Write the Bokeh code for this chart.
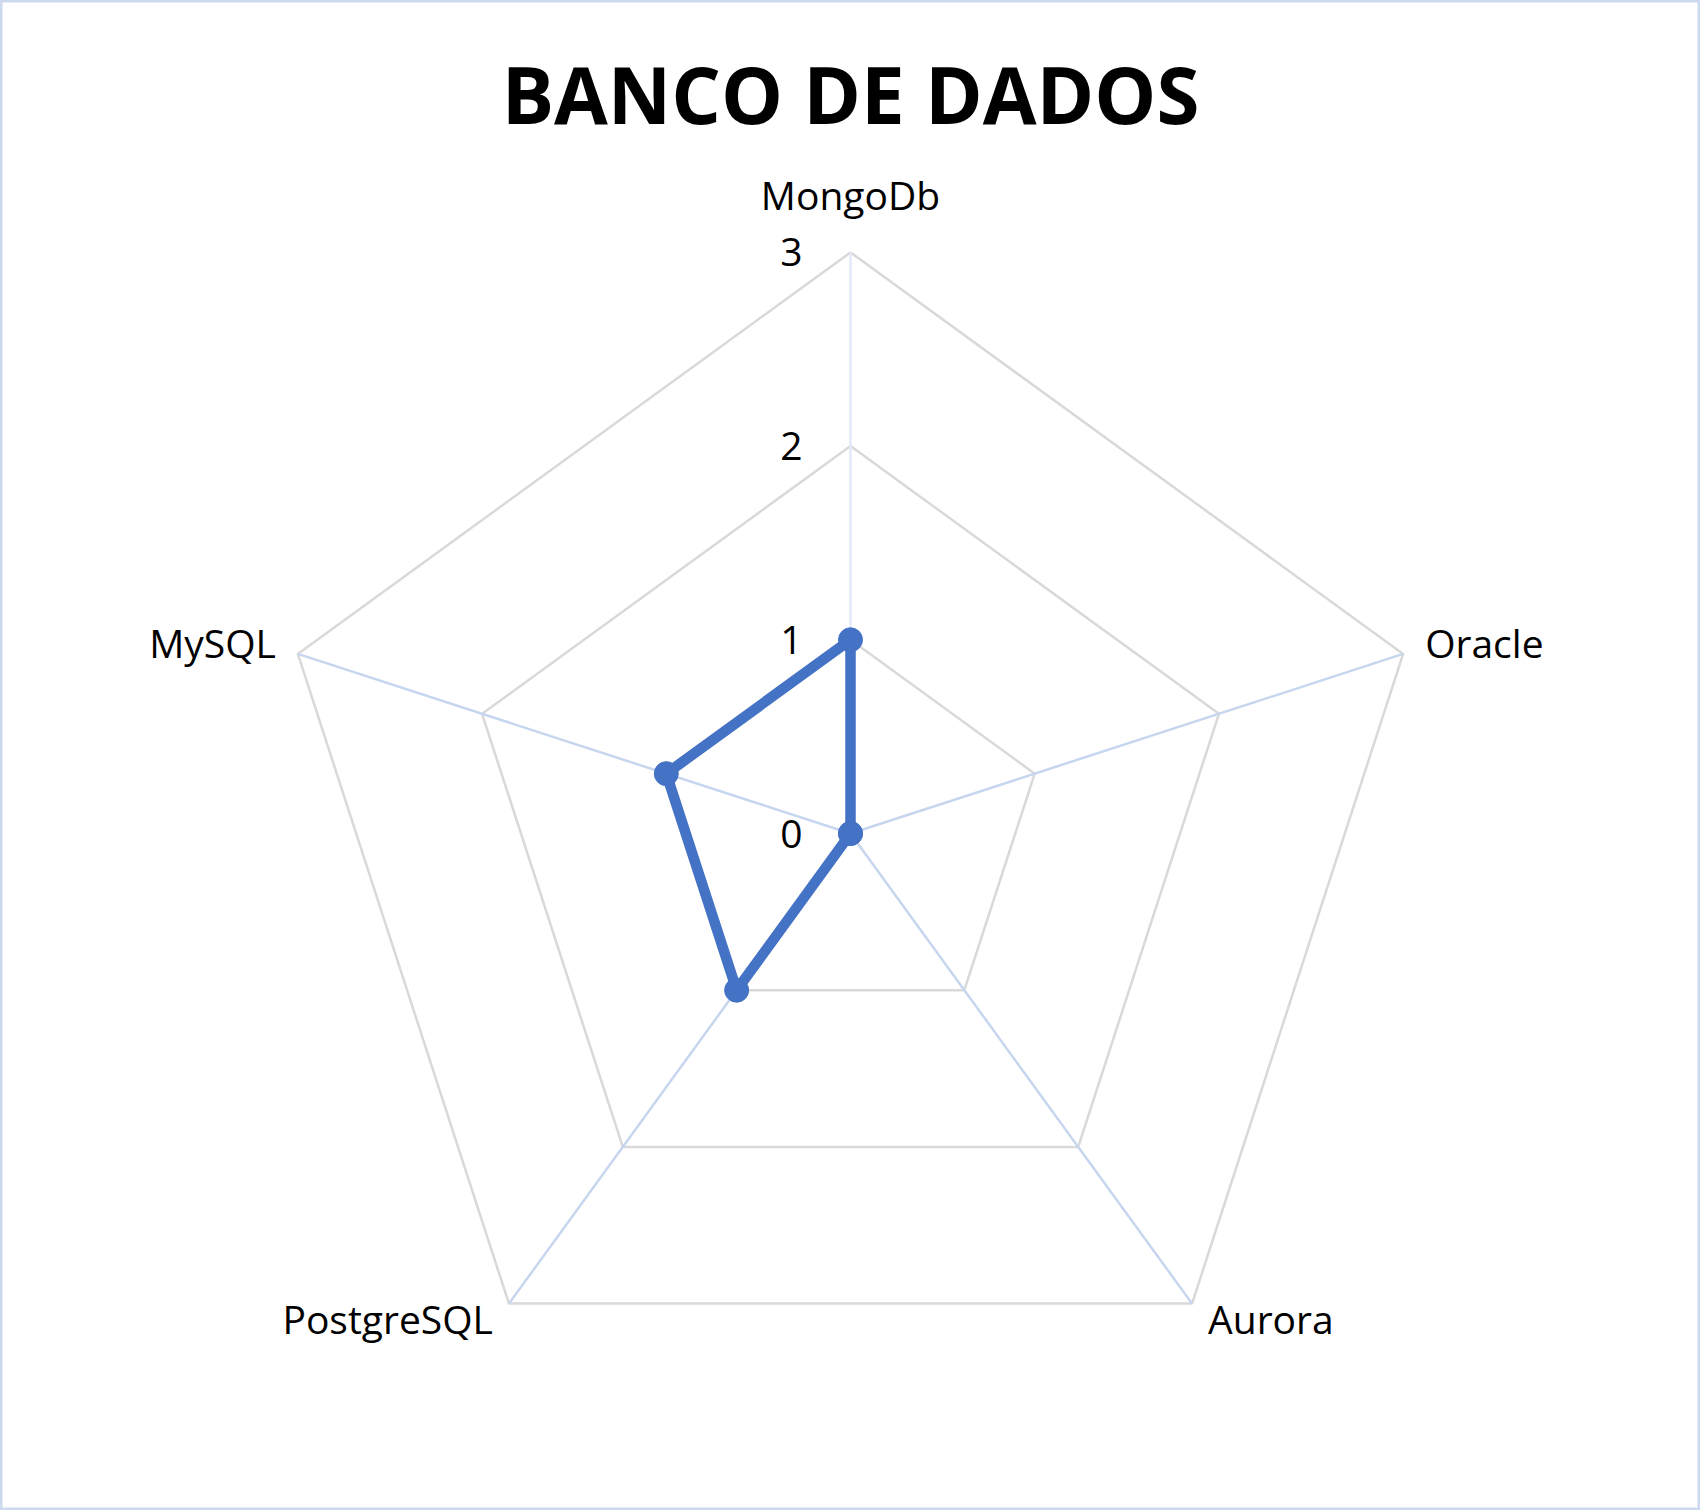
import numpy as np
from bokeh.plotting import figure
from bokeh.models import Range1d
from bokeh.core.properties import value
from bokeh.embed import file_html
from bokeh.resources import INLINE

title_text = "BANCO DE DADOS"
categories = ["MongoDb", "Oracle", "Aurora", "PostgreSQL", "MySQL"]
values = [1, 0, 0, 1, 1]
tick_values = [0, 1, 2, 3]
tick_labels = ["0", "1", "2", "3"]

W, H = 1700, 1510
S = 193.7          # pixels per unit
CX, CY = 850, 833  # centre in pixels
FONT = "Open Sans"

p = figure(width=W, height=H, output_backend="svg", toolbar_location=None,
           x_range=Range1d(-CX / S, (W - CX) / S),
           y_range=Range1d(-(H - CY) / S, CY / S),
           min_border=0)
p.xaxis.visible = False
p.yaxis.visible = False
p.xgrid.visible = False
p.ygrid.visible = False
p.outline_line_color = "#cdd9ef"
p.outline_line_width = 4
p.background_fill_color = "white"
p.border_fill_color = "white"

n = len(categories)
ang = np.array([np.pi / 2 - 2 * np.pi * i / n for i in range(n)])
rmax = max(tick_values)

# rings
for t in tick_values[1:]:
    xs = list(t * np.cos(ang)) + [t * np.cos(ang[0])]
    ys = list(t * np.sin(ang)) + [t * np.sin(ang[0])]
    p.line(xs, ys, line_color="#d9d9d9", line_width=2.5)

# spokes
for i in range(n):
    col = "#e4eaf7" if i == 0 else "#c7d6ef"
    p.line([0, rmax * np.cos(ang[i])], [0, rmax * np.sin(ang[i])],
           line_color=col, line_width=2.5)

# tick labels
p.text(x=[0] * len(tick_values), y=tick_values, text=tick_labels,
       text_font=value(FONT), text_font_size="39px", text_color="#000000",
       text_align="right", text_baseline="middle", x_offset=-48, y_offset=0)

# category labels
lx = rmax * np.cos(ang)
ly = rmax * np.sin(ang)
aligns = ["center", "left", "left", "right", "right"]
xoffs = [0, 22, 16, -16, -22]
yoffs = [-58, -11, 15, 15, -11]
for i in range(n):
    p.text(x=[lx[i]], y=[ly[i]], text=[categories[i]],
           text_font=value(FONT), text_font_size="39px", text_color="#000000",
           text_align=aligns[i], text_baseline="middle",
           x_offset=xoffs[i], y_offset=yoffs[i])

# data
v = np.array(values, dtype=float)
dx = list(v * np.cos(ang)) + [v[0] * np.cos(ang[0])]
dy = list(v * np.sin(ang)) + [v[0] * np.sin(ang[0])]
p.line(dx, dy, line_color="#4472C4", line_width=10.5, line_join="round")
p.scatter(dx[:-1], dy[:-1], marker="circle", size=24,
          fill_color="#4472C4", line_color="#4472C4")

# title
p.text(x=[0], y=[CY / S], text=[title_text], text_font=value(FONT),
       text_font_style="bold", text_font_size="78px", text_color="#000000",
       text_align="center", text_baseline="middle", y_offset=93)

open("out.html", "w").write(file_html(p, INLINE))
